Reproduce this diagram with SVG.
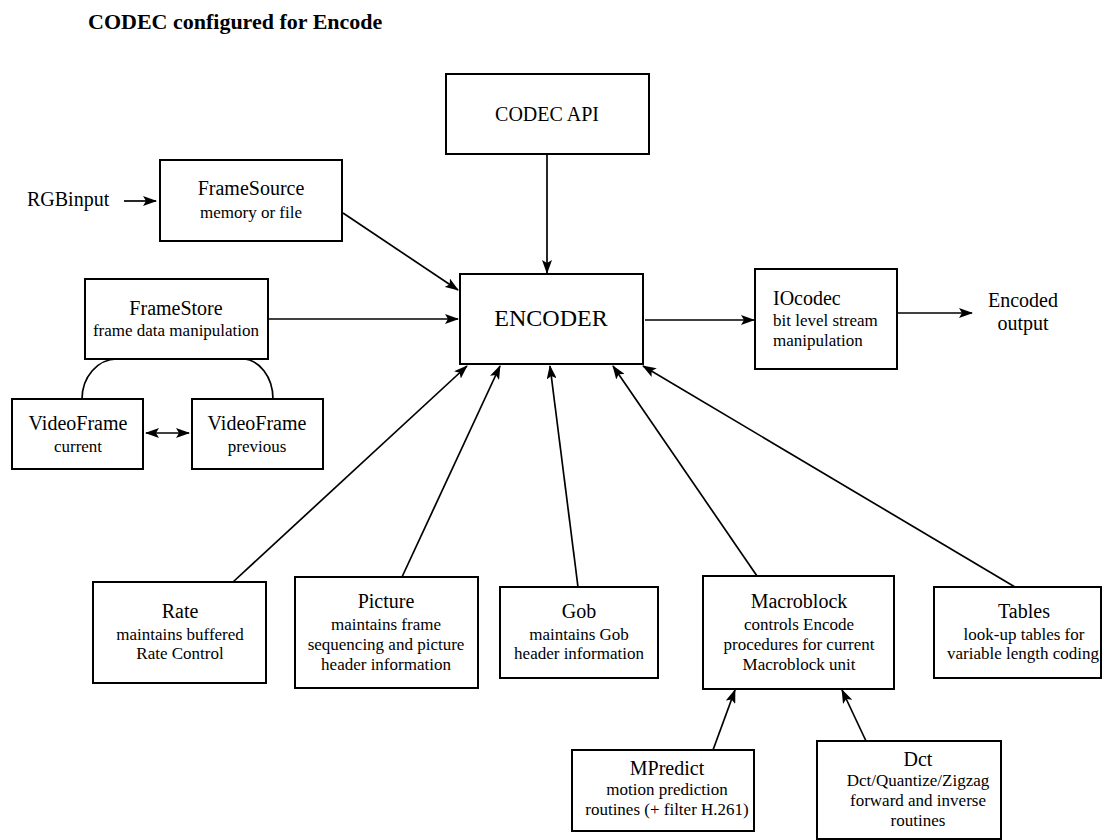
<svg xmlns="http://www.w3.org/2000/svg" width="1108" height="840" viewBox="0 0 1108 840" font-family="'Liberation Serif', 'Times New Roman', Tinos, 'DejaVu Serif', serif">
<style>
text{font-family:'Liberation Serif','Times New Roman',Tinos,'DejaVu Serif',serif;fill:#000}
.t{text-anchor:middle}
.st{text-anchor:start}
.h{font-size:20px}
.s{font-size:17px}
.box{fill:#fff;stroke:#000;stroke-width:2}
.ln{stroke:#000;stroke-width:1.7;fill:none}
.a{marker-end:url(#ah)}
</style>
<defs>
<marker id="ah" markerUnits="userSpaceOnUse" markerWidth="14" markerHeight="10" refX="13" refY="5" orient="auto-start-reverse">
<path d="M0,0 L14,5 L0,10 L3,5 z" fill="#000"/>
</marker>
</defs>
<text x="88" y="29" font-weight="bold" font-size="22">CODEC configured for Encode</text>

<g id="codecapi"><rect class="box" x="446" y="74" width="203" height="80"/><text class="t h" x="547" y="121">CODEC API</text></g>
<g id="framesource"><rect class="box" x="160" y="160" width="182" height="81"/><text class="t h" x="251" y="195">FrameSource</text><text class="t s" x="251" y="218">memory or file</text></g>
<g id="rgbinput"><text class="st h" x="27" y="206">RGBinput</text></g>
<g id="framestore"><rect class="box" x="85" y="279" width="183" height="80"/><text class="t h" x="176" y="315">FrameStore</text><text class="t s" x="176" y="336">frame data manipulation</text></g>
<g id="vfcurrent"><rect class="box" x="12" y="399" width="131" height="70"/><text class="t h" x="78" y="430">VideoFrame</text><text class="t s" x="78" y="452">current</text></g>
<g id="vfprevious"><rect class="box" x="192" y="399" width="131" height="70"/><text class="t h" x="257" y="430">VideoFrame</text><text class="t s" x="257" y="452">previous</text></g>
<g id="encoder"><rect class="box" x="460" y="274" width="183" height="90"/><text class="t" font-size="24" x="551" y="326">ENCODER</text></g>
<g id="iocodec"><rect class="box" x="755" y="269" width="142" height="100"/><text class="st h" x="773" y="305">IOcodec</text><text class="st s" x="773" y="326">bit level stream</text><text class="st s" x="773" y="346">manipulation</text></g>
<g id="output"><text class="t h" x="1023" y="307">Encoded</text><text class="t h" x="1023" y="330">output</text></g>
<g id="rate"><rect class="box" x="93" y="582" width="173" height="101"/><text class="t h" x="180" y="618">Rate</text><text class="t s" x="180" y="640">maintains buffered</text><text class="t s" x="180" y="659">Rate Control</text></g>
<g id="picture"><rect class="box" x="295" y="577" width="183" height="111"/><text class="t h" x="386" y="608">Picture</text><text class="t s" x="386" y="630">maintains frame</text><text class="t s" x="386" y="650">sequencing and picture</text><text class="t s" x="386" y="670">header information</text></g>
<g id="gob"><rect class="box" x="500" y="587" width="158" height="91"/><text class="t h" x="579" y="618">Gob</text><text class="t s" x="579" y="640">maintains Gob</text><text class="t s" x="579" y="659">header information</text></g>
<g id="macroblock"><rect class="box" x="703" y="576" width="191" height="113"/><text class="t h" x="799" y="608">Macroblock</text><text class="t s" x="799" y="630">controls Encode</text><text class="t s" x="799" y="650">procedures for current</text><text class="t s" x="799" y="670">Macroblock unit</text></g>
<g id="tables"><rect class="box" x="934" y="587" width="167" height="91"/><text class="t h" x="1024" y="618">Tables</text><text class="t s" x="1024" y="640">look-up tables for</text><text class="t s" x="1023" y="659">variable length coding</text></g>
<g id="mpredict"><rect class="box" x="572" y="750" width="182" height="81"/><text class="t h" x="667" y="775">MPredict</text><text class="t s" x="667" y="795">motion prediction</text><text class="t s" x="667" y="815">routines (+ filter H.261)</text></g>
<g id="dct"><rect class="box" x="817" y="741" width="184" height="98"/><text class="t h" x="918" y="766">Dct</text><text class="t s" x="918" y="786">Dct/Quantize/Zigzag</text><text class="t s" x="918" y="806">forward and inverse</text><text class="t s" x="918" y="826">routines</text></g>

<g id="connectors">
<line class="ln a" x1="124" y1="201" x2="156" y2="201"/>
<line class="ln a" x1="547" y1="154" x2="547" y2="273"/>
<line class="ln a" x1="343" y1="213" x2="458" y2="290"/>
<line class="ln a" x1="268" y1="319" x2="458" y2="319"/>
<line class="ln a" x1="645" y1="320" x2="754" y2="320"/>
<line class="ln a" x1="897" y1="313" x2="972" y2="313"/>
<line class="ln a" x1="146" y1="433" x2="189" y2="433" style="marker-start:url(#ah)"/>
<path class="ln" d="M117,359 A35,40 0 0 0 82,399"/>
<path class="ln" d="M242,359 A31,40 0 0 1 273,399"/>
<line class="ln a" x1="233" y1="582" x2="467" y2="366"/>
<line class="ln a" x1="402" y1="577" x2="500" y2="366"/>
<line class="ln a" x1="578" y1="587" x2="550" y2="366"/>
<line class="ln a" x1="757" y1="576" x2="613" y2="366"/>
<line class="ln a" x1="1015" y1="587" x2="643" y2="366"/>
<line class="ln a" x1="713" y1="750" x2="735" y2="690"/>
<line class="ln a" x1="866" y1="741" x2="842" y2="690"/>
</g>
</svg>
